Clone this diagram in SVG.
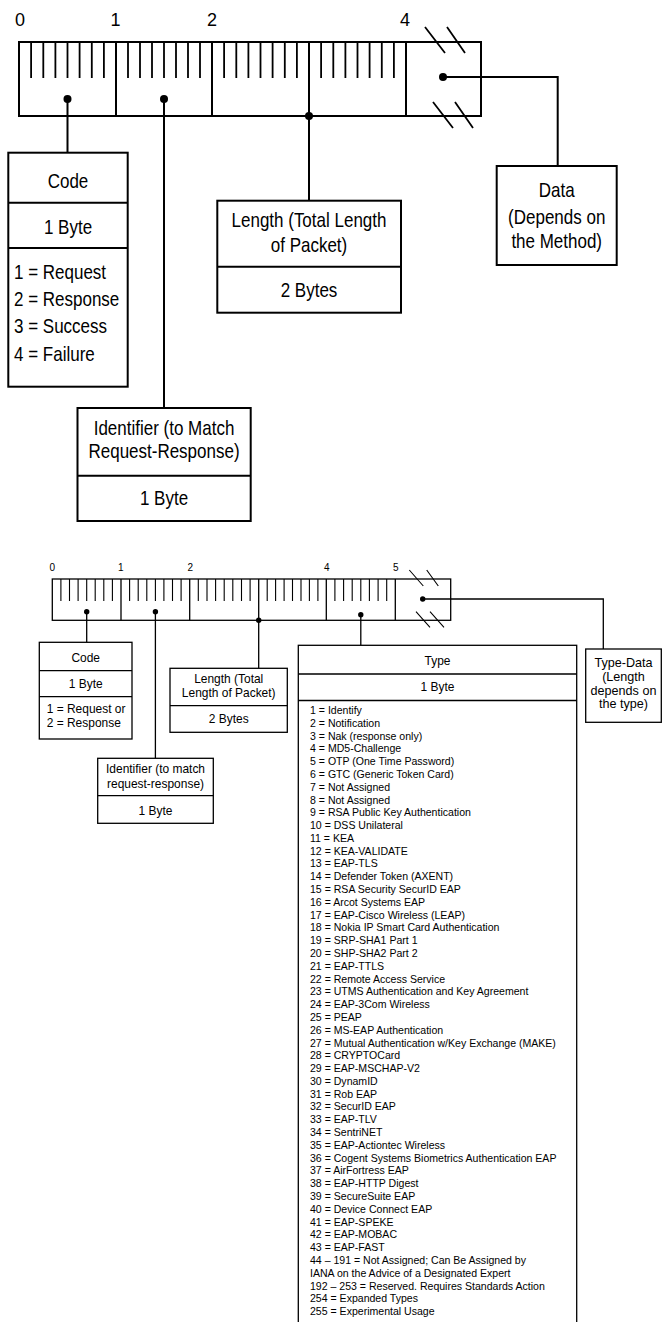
<svg xmlns="http://www.w3.org/2000/svg" width="662" height="1322" viewBox="0 0 662 1322">
<style>
  .ln { fill: none; stroke: #000; stroke-linecap: butt; }
  .w2 { stroke-width: 2; }
  .w1 { stroke-width: 1.3; }
  .bx { fill: #fff; stroke: #000; }
  .dot { fill: #000; }
  text { font-family: "Liberation Sans", Arial, Helvetica, sans-serif; fill: #000; }
  .c { text-anchor: middle; }
  .f20 { font-size: 20px; }
  .f18 { font-size: 18px; }
  .f13 { font-size: 13px; }
  .f11 { font-size: 11px; }
  .f10 { font-size: 10px; }
</style>

<!-- ===== Top diagram: EAP packet ===== -->
<g id="top-ruler">
  <text class="f18 c" x="20" y="26">0</text>
  <text class="f18 c" x="115.5" y="26">1</text>
  <text class="f18 c" x="212" y="26">2</text>
  <text class="f18 c" x="405" y="26">4</text>
  <rect class="ln w2" x="19" y="42" width="462" height="74"/>
  <path class="ln w2" d="M116 42V116M212 42V116M309 42V116M406 42V116"/>
  <path class="ln" stroke-width="1.8" d="M31.1 42V78M43.3 42V78M55.4 42V78M67.5 42V78M79.6 42V78M91.8 42V78M103.9 42V78
    M128 42V78M140 42V78M152 42V78M164 42V78M176 42V78M188 42V78M200 42V78
    M224.1 42V78M236.3 42V78M248.4 42V78M260.5 42V78M272.6 42V78M284.8 42V78M296.9 42V78
    M321.1 42V78M333.3 42V78M345.4 42V78M357.5 42V78M369.6 42V78M381.8 42V78M393.9 42V78"/>
  <path class="ln" stroke-width="1.8" d="M425 27L445 53M447 27L465 53M433 102L453 128M455 102L473 128"/>
</g>

<g id="top-connectors">
  <path class="ln w2" d="M67.5 99V152.7M164 99V408M309 116V200.7M443 77H557.7V166"/>
  <circle class="dot" cx="67.5" cy="99" r="4"/>
  <circle class="dot" cx="164" cy="99" r="4"/>
  <circle class="dot" cx="309" cy="116" r="4"/>
  <circle class="dot" cx="443" cy="77" r="4"/>
</g>

<g id="top-code">
  <rect class="bx w2" x="8.3" y="152.7" width="119.4" height="234"/>
  <path class="ln w2" d="M8.3 202.7H127.7M8.3 248H127.7"/>
  <text class="f20 c" transform="translate(68,188) scale(0.85,1)">Code</text>
  <text class="f20 c" transform="translate(68,234) scale(0.85,1)">1 Byte</text>
  <text class="f20" transform="translate(14,279.3) scale(0.85,1)">1 = Request</text>
  <text class="f20" transform="translate(14,306) scale(0.85,1)">2 = Response</text>
  <text class="f20" transform="translate(14,333) scale(0.85,1)">3 = Success</text>
  <text class="f20" transform="translate(14,360.5) scale(0.85,1)">4 = Failure</text>
</g>

<g id="top-length">
  <rect class="bx w2" x="217.3" y="200.7" width="183.7" height="112"/>
  <path class="ln w2" d="M217.3 266.7H401"/>
  <text class="f20 c" transform="translate(309,227) scale(0.85,1)">Length (Total Length</text>
  <text class="f20 c" transform="translate(309,251.7) scale(0.85,1)">of Packet)</text>
  <text class="f20 c" transform="translate(309,296.7) scale(0.85,1)">2 Bytes</text>
</g>

<g id="top-data">
  <rect class="bx w2" x="496.7" y="166" width="120" height="99"/>
  <text class="f20 c" transform="translate(556.7,196.7) scale(0.85,1)">Data</text>
  <text class="f20 c" transform="translate(556.7,223.5) scale(0.85,1)">(Depends on</text>
  <text class="f20 c" transform="translate(556.7,248.3) scale(0.85,1)">the Method)</text>
</g>

<g id="top-identifier">
  <rect class="bx w2" x="77.5" y="408" width="173.2" height="113"/>
  <path class="ln w2" d="M77.5 475.7H250.7"/>
  <text class="f20 c" transform="translate(164,435) scale(0.85,1)">Identifier (to Match</text>
  <text class="f20 c" transform="translate(164,458) scale(0.85,1)">Request-Response)</text>
  <text class="f20 c" transform="translate(164,505) scale(0.85,1)">1 Byte</text>
</g>

<!-- ===== Bottom diagram: EAP Request/Response packet ===== -->
<g id="bottom-ruler">
  <text class="f10 c" x="52.3" y="571">0</text>
  <text class="f10 c" x="120.7" y="571">1</text>
  <text class="f10 c" x="190.3" y="571">2</text>
  <text class="f10 c" x="326.7" y="571">4</text>
  <text class="f10 c" x="395.7" y="571">5</text>
  <rect class="ln w1" x="52.3" y="579" width="398.4" height="41.3"/>
  <path class="ln w1" d="M121 579V620.3M189.7 579V620.3M258.7 579V620.3M326.3 579V620.3M395.3 579V620.3"/>
  <path class="ln" stroke-width="1.1" d="M60.9 579V601M69.5 579V601M78.1 579V601M86.7 579V601M95.2 579V601M103.8 579V601M112.4 579V601
    M129.6 579V601M138.2 579V601M146.8 579V601M155.4 579V601M163.9 579V601M172.5 579V601M181.1 579V601
    M198.3 579V601M207 579V601M215.6 579V601M224.2 579V601M232.8 579V601M241.5 579V601M250.1 579V601
    M267.2 579V601M275.6 579V601M284.1 579V601M292.5 579V601M301 579V601M309.4 579V601M317.9 579V601
    M334.9 579V601M343.6 579V601M352.2 579V601M360.8 579V601M369.4 579V601M378.1 579V601M386.7 579V601"/>
  <path class="ln" stroke-width="1.1" d="M409.3 570L423.3 586M426.7 570L438.3 586M416 611.7L430 627.3M430 611.7L444 627.3"/>
</g>

<g id="bottom-connectors">
  <path class="ln w1" d="M86.7 611.7V642.3M155.4 611.7V758.3M258.7 620.3V668.3M360.8 614.7V645.3M422.7 599H603.3V649"/>
  <circle class="dot" cx="86.7" cy="611.7" r="2.7"/>
  <circle class="dot" cx="155.4" cy="611.7" r="2.7"/>
  <circle class="dot" cx="258.7" cy="620.3" r="2.7"/>
  <circle class="dot" cx="360.8" cy="614.7" r="2.7"/>
  <circle class="dot" cx="422.7" cy="599" r="2.7"/>
</g>

<g id="bottom-code">
  <rect class="bx w1" x="39.3" y="642.3" width="92.7" height="96.7"/>
  <path class="ln w1" d="M39.3 670.7H132M39.3 696.7H132"/>
  <text class="f13 c" transform="translate(85.7,662) scale(0.92,1)">Code</text>
  <text class="f13 c" transform="translate(85.7,688) scale(0.92,1)">1 Byte</text>
  <text class="f13" transform="translate(46.7,713.3) scale(0.92,1)">1 = Request or</text>
  <text class="f13" transform="translate(46.7,726.7) scale(0.92,1)">2 = Response</text>
</g>

<g id="bottom-length">
  <rect class="bx w1" x="170" y="668.3" width="117.3" height="64"/>
  <path class="ln w1" d="M170 705.7H287.3"/>
  <text class="f13 c" transform="translate(228.7,683.3) scale(0.92,1)">Length (Total</text>
  <text class="f13 c" transform="translate(228.7,697) scale(0.92,1)">Length of Packet)</text>
  <text class="f13 c" transform="translate(228.7,723.3) scale(0.92,1)">2 Bytes</text>
</g>

<g id="bottom-identifier">
  <rect class="bx w1" x="97.7" y="758.3" width="115.6" height="65"/>
  <path class="ln w1" d="M97.7 795.7H213.3"/>
  <text class="f13 c" transform="translate(155.5,773.3) scale(0.92,1)">Identifier (to match</text>
  <text class="f13 c" transform="translate(155.5,787.8) scale(0.92,1)">request-response)</text>
  <text class="f13 c" transform="translate(155.5,814.5) scale(0.92,1)">1 Byte</text>
</g>

<g id="bottom-typedata">
  <rect class="bx w1" x="585.7" y="649" width="75.6" height="73.3"/>
  <text class="f13 c" transform="translate(623.5,666.7) scale(0.97,1)">Type-Data</text>
  <text class="f13 c" transform="translate(623.5,681) scale(0.97,1)">(Length</text>
  <text class="f13 c" transform="translate(623.5,694.5) scale(0.97,1)">depends on</text>
  <text class="f13 c" transform="translate(623.5,708.3) scale(0.97,1)">the type)</text>
</g>

<g id="bottom-type">
  <rect class="bx w1" x="298.3" y="645.3" width="278.4" height="700"/>
  <path class="ln w1" d="M298.3 674H576.7M298.3 700.5H576.7"/>
  <text class="f13 c" transform="translate(437.5,665) scale(0.92,1)">Type</text>
  <text class="f13 c" transform="translate(437.5,691) scale(0.92,1)">1 Byte</text>
  <g transform="translate(310,714) scale(0.96,1)" class="f11">
    <text x="0" y="0">1 = Identify</text>
    <text x="0" y="12.79">2 = Notification</text>
    <text x="0" y="25.58">3 = Nak (response only)</text>
    <text x="0" y="38.37">4 = MD5-Challenge</text>
    <text x="0" y="51.16">5 = OTP (One Time Password)</text>
    <text x="0" y="63.95">6 = GTC (Generic Token Card)</text>
    <text x="0" y="76.74">7 = Not Assigned</text>
    <text x="0" y="89.53">8 = Not Assigned</text>
    <text x="0" y="102.32">9 = RSA Public Key Authentication</text>
    <text x="0" y="115.11">10 = DSS Unilateral</text>
    <text x="0" y="127.9">11 = KEA</text>
    <text x="0" y="140.69">12 = KEA-VALIDATE</text>
    <text x="0" y="153.48">13 = EAP-TLS</text>
    <text x="0" y="166.27">14 = Defender Token (AXENT)</text>
    <text x="0" y="179.06">15 = RSA Security SecurID EAP</text>
    <text x="0" y="191.85">16 = Arcot Systems EAP</text>
    <text x="0" y="204.64">17 = EAP-Cisco Wireless (LEAP)</text>
    <text x="0" y="217.43">18 = Nokia IP Smart Card Authentication</text>
    <text x="0" y="230.22">19 = SRP-SHA1 Part 1</text>
    <text x="0" y="243.01">20 = SHP-SHA2 Part 2</text>
    <text x="0" y="255.8">21 = EAP-TTLS</text>
    <text x="0" y="268.59">22 = Remote Access Service</text>
    <text x="0" y="281.38">23 = UTMS Authentication and Key Agreement</text>
    <text x="0" y="294.17">24 = EAP-3Com Wireless</text>
    <text x="0" y="306.96">25 = PEAP</text>
    <text x="0" y="319.75">26 = MS-EAP Authentication</text>
    <text x="0" y="332.54">27 = Mutual Authentication w/Key Exchange (MAKE)</text>
    <text x="0" y="345.33">28 = CRYPTOCard</text>
    <text x="0" y="358.12">29 = EAP-MSCHAP-V2</text>
    <text x="0" y="370.91">30 = DynamID</text>
    <text x="0" y="383.7">31 = Rob EAP</text>
    <text x="0" y="396.49">32 = SecurID EAP</text>
    <text x="0" y="409.28">33 = EAP-TLV</text>
    <text x="0" y="422.07">34 = SentriNET</text>
    <text x="0" y="434.86">35 = EAP-Actiontec Wireless</text>
    <text x="0" y="447.65">36 = Cogent Systems Biometrics Authentication EAP</text>
    <text x="0" y="460.44">37 = AirFortress EAP</text>
    <text x="0" y="473.23">38 = EAP-HTTP Digest</text>
    <text x="0" y="486.02">39 = SecureSuite EAP</text>
    <text x="0" y="498.81">40 = Device Connect EAP</text>
    <text x="0" y="511.6">41 = EAP-SPEKE</text>
    <text x="0" y="524.39">42 = EAP-MOBAC</text>
    <text x="0" y="537.18">43 = EAP-FAST</text>
    <text x="0" y="549.97">44 – 191 = Not Assigned; Can Be Assigned by</text>
    <text x="0" y="562.76">IANA on the Advice of a Designated Expert</text>
    <text x="0" y="575.55">192 – 253 = Reserved. Requires Standards Action</text>
    <text x="0" y="588.34">254 = Expanded Types</text>
    <text x="0" y="601.13">255 = Experimental Usage</text>
  </g>
</g>
</svg>
